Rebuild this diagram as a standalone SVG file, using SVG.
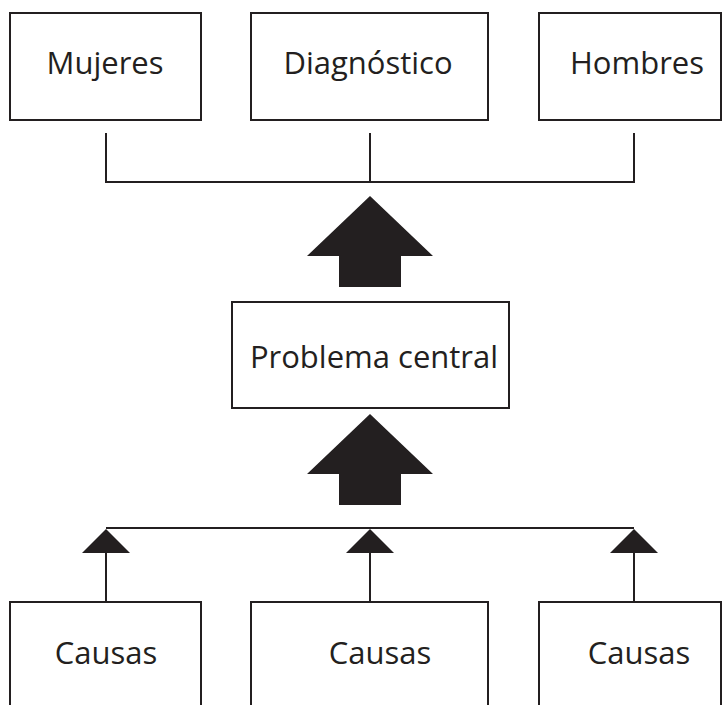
<svg xmlns="http://www.w3.org/2000/svg" width="723" height="705" viewBox="0 0 723 705">
<style>
.box{fill:#fff;stroke:#231f20;stroke-width:2}
.ln{fill:none;stroke:#231f20;stroke-width:2}
.ar{fill:#231f20;stroke:none}
text{font-family:"Open Sans","Liberation Sans",sans-serif;font-size:31px;fill:#231f20;text-anchor:middle}
</style>
<rect width="723" height="705" fill="#fff"/>
<g id="connectors">
<path class="ln" d="M106,133V182H634V133M370,133V182"/>
<polygon class="ar" points="370,196 433,256 401,256 401,287 339,287 339,256 307,256"/>
<polygon class="ar" points="370,414 433,474 401,474 401,505 339,505 339,474 307,474"/>
<path class="ln" d="M106,528H634M106,550V602M370,550V602M634,550V602"/>
<polygon class="ar" points="106,529 130,553 82,553"/>
<polygon class="ar" points="370,529 394,553 346,553"/>
<polygon class="ar" points="634,529 658,553 610,553"/>
</g>
<g id="mujeres"><rect class="box" x="10" y="13" width="191" height="107"/><text x="105" y="74">Mujeres</text></g>
<g id="diagnostico"><rect class="box" x="251" y="13" width="237" height="107"/><text x="368" y="74">Diagnóstico</text></g>
<g id="hombres"><rect class="box" x="539" y="13" width="182" height="107"/><text x="637" y="74">Hombres</text></g>
<g id="problema"><rect class="box" x="232" y="302" width="277" height="106"/><text x="374" y="368">Problema central</text></g>
<g id="causas1"><rect class="box" x="10" y="602" width="191" height="120"/><text x="106" y="664">Causas</text></g>
<g id="causas2"><rect class="box" x="251" y="602" width="237" height="120"/><text x="380" y="664">Causas</text></g>
<g id="causas3"><rect class="box" x="539" y="602" width="182" height="120"/><text x="639" y="664">Causas</text></g>
</svg>
